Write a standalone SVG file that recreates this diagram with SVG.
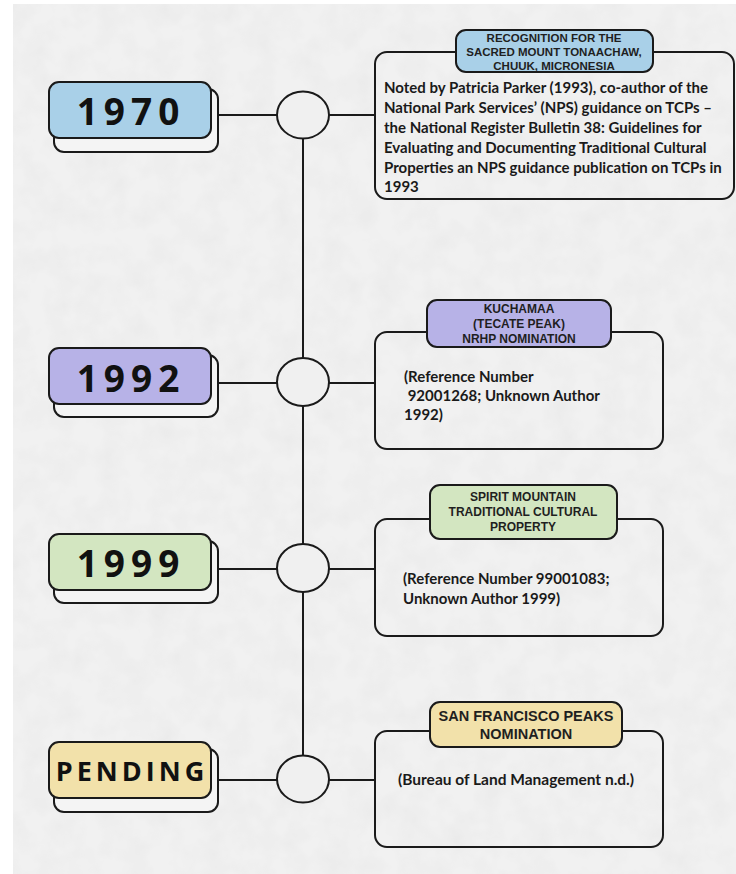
<svg xmlns="http://www.w3.org/2000/svg" width="736" height="874" viewBox="0 0 736 874">
<defs>
<filter id="paper" x="0" y="0" width="100%" height="100%">
<feTurbulence type="fractalNoise" baseFrequency="0.04" numOctaves="3" seed="4" result="n"/>
<feColorMatrix type="matrix" values="0 0 0 0 0  0 0 0 0 0  0 0 0 0 0  0 0 0 -0.9 0.55" in="n" result="a"/>
<feFlood flood-color="#e4e4e4"/>
<feComposite in2="a" operator="in" result="spots"/>
<feMerge><feMergeNode in="SourceGraphic"/><feMergeNode in="spots"/></feMerge>
</filter>
<style>
.ln{stroke:#1a1a1a;stroke-width:2;fill:none}
.dot{fill:#f0f0f0;stroke:#1a1a1a;stroke-width:2}
.sh{fill:#f4f4f4;stroke:#1a1a1a;stroke-width:2}
.fr{stroke:#1a1a1a;stroke-width:2}
.card{fill:none;stroke:#1a1a1a;stroke-width:2}
.yr{font-family:"Open Sans","DejaVu Sans",sans-serif;font-weight:700;fill:#111;text-anchor:middle}
.lab{font-family:"Liberation Sans",Arial,sans-serif;font-weight:700;fill:#1f1f1f;text-anchor:middle}
.body{font-family:"Lato","Open Sans",sans-serif;font-weight:700;fill:#1a1a1a}
</style>
</defs>
<rect x="0" y="0" width="736" height="874" fill="#ffffff"/>
<rect x="13" y="4" width="723" height="870" fill="#f1f1f1" filter="url(#paper)"/>

<g id="connectors">
<line class="ln" x1="303" y1="115" x2="303" y2="779"/>
<line class="ln" x1="218" y1="115" x2="277" y2="115"/>
<line class="ln" x1="329" y1="115" x2="375" y2="115"/>
<line class="ln" x1="218" y1="383" x2="277" y2="383"/>
<line class="ln" x1="329" y1="383" x2="375" y2="383"/>
<line class="ln" x1="218" y1="569" x2="277" y2="569"/>
<line class="ln" x1="329" y1="569" x2="375" y2="569"/>
<line class="ln" x1="218" y1="780" x2="277" y2="780"/>
<line class="ln" x1="329" y1="780" x2="375" y2="780"/>
</g>

<g id="dots">
<ellipse class="dot" cx="303" cy="115" rx="26" ry="23.5"/>
<ellipse class="dot" cx="303" cy="382" rx="26" ry="24"/>
<ellipse class="dot" cx="303" cy="568" rx="26" ry="24"/>
<ellipse class="dot" cx="303" cy="779" rx="26" ry="23.5"/>
</g>

<g id="year-1970">
<rect class="sh" x="54" y="89" width="164" height="63" rx="10"/>
<rect class="fr" x="49" y="82" width="162" height="56" rx="10" fill="#a9d0e8"/>
<text class="yr" x="131" y="125" font-size="37" letter-spacing="6">1970</text>
</g>
<g id="year-1992">
<rect class="sh" x="54" y="355" width="164" height="62" rx="10"/>
<rect class="fr" x="49" y="348" width="162" height="56" rx="10" fill="#b7b2e7"/>
<text class="yr" x="131" y="392" font-size="37" letter-spacing="6">1992</text>
</g>
<g id="year-1999">
<rect class="sh" x="54" y="541" width="164" height="62" rx="10"/>
<rect class="fr" x="49" y="534" width="162" height="56" rx="10" fill="#d3e6c1"/>
<text class="yr" x="131" y="577" font-size="37" letter-spacing="6">1999</text>
</g>
<g id="year-pending">
<rect class="sh" x="54" y="749" width="164" height="63" rx="10"/>
<rect class="fr" x="49" y="742" width="162" height="56" rx="10" fill="#f2e1aa"/>
<text class="yr" x="132" y="781" font-size="27" letter-spacing="4">PENDING</text>
</g>

<g id="card-1970">
<rect class="card" x="375" y="52" width="359" height="147" rx="12"/>
<rect class="fr" x="456" y="30" width="197" height="42" rx="10" fill="#a9d0e8"/>
<g class="lab" font-size="11.5">
<text x="554" y="42">RECOGNITION FOR THE</text>
<text x="554" y="56">SACRED MOUNT TONAACHAW,</text>
<text x="554" y="70">CHUUK, MICRONESIA</text>
</g>
<g class="body" font-size="15">
<text x="384" y="93">Noted by Patricia Parker (1993), co-author of the</text>
<text x="384" y="113">National Park Services’ (NPS) guidance on TCPs –</text>
<text x="384" y="133">the National Register Bulletin 38: Guidelines for</text>
<text x="384" y="153">Evaluating and Documenting Traditional Cultural</text>
<text x="384" y="173">Properties an NPS guidance publication on TCPs in</text>
<text x="384" y="192">1993</text>
</g>
</g>

<g id="card-1992">
<rect class="card" x="375" y="332" width="288" height="117" rx="12"/>
<rect class="fr" x="427" y="300" width="184" height="47" rx="10" fill="#b7b2e7"/>
<g class="lab" font-size="12">
<text x="519" y="313">KUCHAMAA</text>
<text x="519" y="328">(TECATE PEAK)</text>
<text x="519" y="343">NRHP NOMINATION</text>
</g>
<g class="body" font-size="15">
<text x="404" y="382">(Reference Number</text>
<text x="404" y="401" xml:space="preserve"> 92001268; Unknown Author</text>
<text x="404" y="420">1992)</text>
</g>
</g>

<g id="card-1999">
<rect class="card" x="375" y="519" width="288" height="117" rx="12"/>
<rect class="fr" x="430" y="485" width="187" height="54" rx="10" fill="#d3e6c1"/>
<g class="lab" font-size="12">
<text x="523" y="501">SPIRIT MOUNTAIN</text>
<text x="523" y="516">TRADITIONAL CULTURAL</text>
<text x="523" y="531">PROPERTY</text>
</g>
<g class="body" font-size="15">
<text x="403" y="584">(Reference Number 99001083;</text>
<text x="403" y="604">Unknown Author 1999)</text>
</g>
</g>

<g id="card-pending">
<rect class="card" x="375" y="731" width="288" height="116" rx="12"/>
<rect class="fr" x="430" y="702" width="192" height="45" rx="10" fill="#f2e1aa"/>
<g class="lab" font-size="14.5">
<text x="526" y="721">SAN FRANCISCO PEAKS</text>
<text x="526" y="739">NOMINATION</text>
</g>
<text class="body" font-size="15.5" x="398" y="785">(Bureau of Land Management n.d.)</text>
</g>
</svg>
